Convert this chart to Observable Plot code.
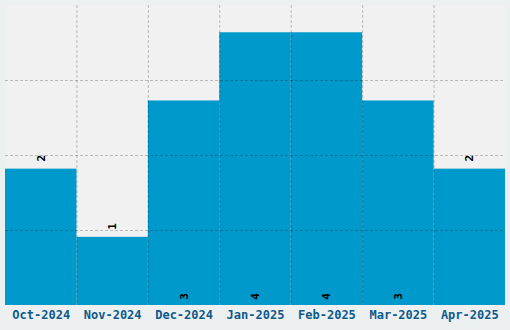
<!DOCTYPE html>
<html><head><meta charset="utf-8">
<script src="https://cdn.jsdelivr.net/npm/d3@7"></script>
<script src="https://cdn.jsdelivr.net/npm/@observablehq/plot@0.6"></script>
<style>
html,body{margin:0;padding:0;background:#edf0f1;}
#chart svg{display:block;}
</style></head><body><div id="chart"></div>
<script>
const months = ["Oct-2024","Nov-2024","Dec-2024","Jan-2025","Feb-2025","Mar-2025","Apr-2025"];
const counts = [2,1,3,4,4,3,2];
const yGrid = [1.1,2.2,3.3];

const data = months.map((m,i)=>({m, i, v: counts[i]}));
const mono = "'DejaVu Sans Mono', monospace";
const grid = {stroke:"#000", strokeOpacity:0.23, strokeDasharray:"3,2"};

const chart = Plot.plot({
  width:510, height:330,
  marginLeft:5, marginRight:5, marginTop:5, marginBottom:25,
  style:{background:"#edf0f1", fontFamily:mono},
  x:{domain:[0,months.length], axis:null},
  y:{domain:[0,4.4], axis:null},
  marks:[
    Plot.frame({fill:"#f1f1f1", stroke:null}),
    Plot.rectY(data,{x1:"i", x2:d=>d.i+1, y:"v", fill:"#0099cc"}),
    Plot.ruleY(yGrid, grid),
    Plot.ruleX(d3.range(1,months.length), grid),
    Plot.text(data.filter(d=>d.v<=2),{x:d=>d.i+0.5, y:"v", text:d=>String(d.v), rotate:-90, dy:-11, fill:"#000", fontSize:11, fontWeight:"bold"}),
    Plot.text(data.filter(d=>d.v>2),{x:d=>d.i+0.5, y:0, text:d=>String(d.v), rotate:-90, dy:-9, fill:"#000", fontSize:11, fontWeight:"bold"}),
    Plot.axisX({ticks:months.map((_,i)=>i+0.5), tickFormat:d=>months[Math.floor(d)], tickSize:0, tickPadding:5, label:null, fill:"#0f5a8c", fontSize:12, fontWeight:"bold"})
  ]
});
document.getElementById("chart").appendChild(chart);
</script></body></html>
